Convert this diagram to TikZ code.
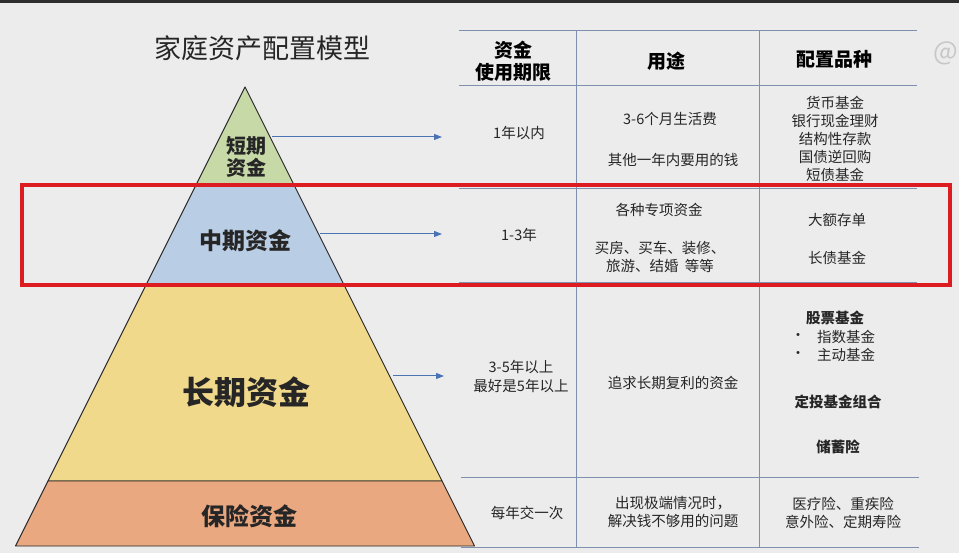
\documentclass[tikz,border=0pt]{standalone}
\usepackage{fontspec}
\setmainfont{Noto Sans CJK SC}
\usetikzlibrary{arrows.meta}

\definecolor{bgGray}{HTML}{ECECED}
\definecolor{layGreen}{HTML}{C6D9A6}
\definecolor{layBlue}{HTML}{B9CDE4}
\definecolor{layYellow}{HTML}{F1D98C}
\definecolor{layOrange}{HTML}{EAA881}
\definecolor{gridLine}{HTML}{7E90AE}
\definecolor{arrowBlue}{HTML}{4A73B5}
\definecolor{boxRed}{HTML}{DD1C22}

\begin{document}
\begin{tikzpicture}[
  x=1pt, y=-1pt,
  layer/.style={draw=black!85, line width=0.9pt, line join=round},
  lvl/.style={font=\fontsize{#1}{#1}\selectfont\bfseries, text=black!85, inner sep=0pt},
  head/.style={font=\fontsize{19}{22}\selectfont\bfseries, align=center, inner sep=0pt},
  cell/.style={font=\fontsize{14.5}{18.2}\selectfont, align=center, inner sep=0pt, text=black!85},
  bcell/.style={cell, font=\fontsize{14.5}{18.2}\selectfont\bfseries},
  grid/.style={draw=gridLine, line width=1pt},
  link/.style={draw=arrowBlue, line width=1pt, -{Triangle[length=8pt, width=6pt]}}
]
  \useasboundingbox (0,0) rectangle (959,553);
  \fill[bgGray] (0,0) rectangle (959,553);
  \fill[black!82] (0,0) rectangle (959,3);

  % pyramid
  \filldraw[layer, fill=layGreen] (245,87) -- (293.5,184) -- (196.5,184) -- cycle;
  \filldraw[layer, fill=layBlue] (196.5,184) -- (293.5,184) -- (343.5,284) -- (146.5,284) -- cycle;
  \filldraw[layer, fill=layYellow] (146.5,284) -- (343.5,284) -- (442,481) -- (48,481) -- cycle;
  \filldraw[layer, fill=layOrange] (48,481) -- (442,481) -- (474.5,546) -- (15.5,546) -- cycle;

  \node[font=\fontsize{27}{27}\selectfont, text=black!85, inner sep=0pt] (title) at (262,48) {家庭资产配置模型};
  \node[lvl=20, align=center, font=\fontsize{20}{22}\selectfont\bfseries] (short) at (246,157) {短期\\资金};
  \node[lvl=23] (mid) at (245,241) {中期资金};
  \node[lvl=32] (long) at (246,392) {长期资金};
  \node[lvl=24] (ins) at (249,516) {保险资金};

  % table grid
  \draw[grid] (459,31) -- (917,31);
  \draw[grid] (459,86) -- (917,86);
  \draw[grid] (459,189) -- (917,189);
  \draw[grid] (459,283) -- (917,283);
  \draw[grid] (461,477) -- (919,477);
  \draw[grid] (461,547) -- (919,547);
  \draw[grid] (576,31) -- (576,547);
  \draw[grid] (759,31) -- (759,547);

  % header
  \node[head] (hTerm) at (513,61) {资金\\使用期限};
  \node[head] (hUse) at (666,61) {用途};
  \node[head] (hKind) at (834,59) {配置品种};

  % short term
  \node[cell] (tA) at (519,133) {1年以内};
  \node[cell] (uA1) at (670,119) {3-6个月生活费};
  \node[cell] (uA2) at (673,160) {其他一年内要用的钱};
  \node[cell] (kA) at (835,139) {货币基金\\银行现金理财\\结构性存款\\国债逆回购\\短债基金};

  % mid term
  \node[cell] (tB) at (519,235) {1-3年};
  \node[cell] (uB1) at (659,210) {各种专项资金};
  \node[cell] (uB2) at (660,257) {买房、买车、装修、\\旅游、结婚~~等等};
  \node[cell] (kB1) at (837,220) {大额存单};
  \node[cell] (kB2) at (837,258) {长债基金};

  % long term
  \node[cell, font=\fontsize{14.5}{19}\selectfont] (tC) at (521,376.5) {3-5年以上\\最好是5年以上};
  \node[cell] (uC) at (673,383) {追求长期复利的资金};
  \node[bcell] (kC1) at (835,318) {股票基金};
  \node[cell] (dot1) at (798,337) {•};
  \node[cell] (kC2) at (846,337) {指数基金};
  \node[cell] (dot2) at (798,355) {•};
  \node[cell] (kC3) at (846,355) {主动基金};
  \node[bcell] (kC4) at (838,402) {定投基金组合};
  \node[bcell] (kC5) at (838,447) {储蓄险};

  % insurance
  \node[cell] (tD) at (527,513) {每年交一次};
  \node[cell] (uD) at (673,512) {出现极端情况时，\\解决钱不够用的问题};
  \node[cell] (kD) at (843,513) {医疗险、重疾险\\意外险、定期寿险};

  % arrows
  \coordinate (sA) at (272,137);
  \coordinate (eA) at (442,137);
  \coordinate (sB) at (320,234);
  \coordinate (eB) at (442,234);
  \coordinate (sC) at (393,376);
  \coordinate (eC) at (444,376);
  \draw[link] (sA) -- (eA);
  \draw[link] (sB) -- (eB);
  \draw[link] (sC) -- (eC);

  % highlight
  \draw[boxRed, line width=3.5pt] (22,185) rectangle (950,285);

  \node[text=black!22, font=\fontsize{26}{26}\selectfont, inner sep=0pt] (mark) at (946,53) {@};
\end{tikzpicture}
\end{document}
